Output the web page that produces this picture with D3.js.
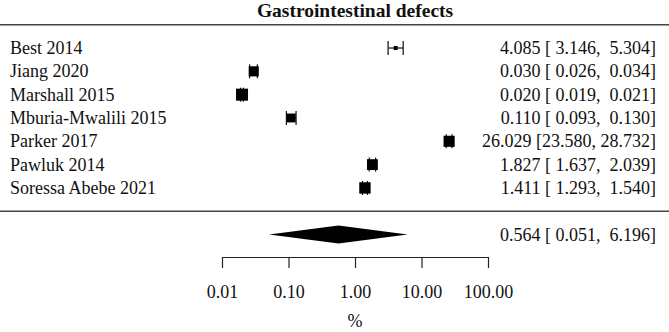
<!DOCTYPE html>
<html>
<head>
<meta charset="utf-8">
<script src="https://cdn.jsdelivr.net/npm/d3@7"></script>
<style>
  body { margin: 0; background: #fff; }
  svg text { font-family: "Liberation Serif", "Times New Roman", serif; fill: #111; white-space: pre; }
</style>
</head>
<body>
<svg id="chart"></svg>
<script>
// data
const studies = ['Best 2014', 'Jiang 2020', 'Marshall 2015', 'Mburia-Mwalili 2015', 'Parker 2017', 'Pawluk 2014', 'Soressa Abebe 2021'];
const estimates = [4.085, 0.030, 0.020, 0.110, 26.029, 1.827, 1.411];
const lowers = [3.146, 0.026, 0.019, 0.093, 23.580, 1.637, 1.293];
const uppers = [5.304, 0.034, 0.021, 0.130, 28.732, 2.039, 1.540];
const summary = { est: 0.564, lb: 0.051, ub: 6.196 };
const tickValues = [0.01, 0.1, 1, 10, 100];

const width = 669;
const height = 332;

const svg = d3.select('svg#chart').attr('width', width).attr('height', height);

// rows like metafor: k..1 for studies, -1 for the summary
const k = studies.length;
const y = d3.scaleLinear().domain([k + 1, -2]).range([24.7, 257.9]);
const x = d3.scaleLog().domain([0.01, 100]).range([222, 488]);

const fmt = d3.format('.3f');
const label = (e, l, u) => fmt(e) + ' [' + fmt(l).padStart(6) + ', ' + fmt(u).padStart(6) + ']';

// point sizes from weights (random effects), rescaled to 0.5..1.5
const vi = lowers.map((l, i) => Math.pow((Math.log(uppers[i]) - Math.log(l)) / (2 * 1.96), 2));
const seSum = (Math.log(summary.ub) - Math.log(summary.lb)) / (2 * 1.96);
let lo = 0, hi = 100;
for (let it = 0; it < 60; it++) {
  const mid = (lo + hi) / 2;
  const s = d3.sum(vi, v => 1 / (v + mid));
  if (1 / s < seSum * seSum) lo = mid; else hi = mid;
}
const tau2 = (lo + hi) / 2;
const wi = vi.map(v => 1 / (v + tau2));
const psize = d3.scaleLinear().domain(d3.extent(wi)).range([0.5, 1.5]);
const boxSide = d3.scaleLinear().domain([0.5, 1.5]).range([4, 12]);

// title
svg.append('text')
  .attr('x', 355).attr('y', 17)
  .attr('text-anchor', 'middle')
  .style('font-size', '19.5px').style('font-weight', 'bold')
  .text('Gastrointestinal defects');

// separator lines
[k + 1, 0].forEach(r => {
  svg.append('line')
    .attr('x1', 0).attr('x2', width)
    .attr('y1', y(r)).attr('y2', y(r))
    .attr('stroke', '#444').attr('stroke-width', 1.5);
});

const rows = studies.map((s, i) => ({ name: s, est: estimates[i], lb: lowers[i], ub: uppers[i], w: wi[i], row: k - i }));

const g = svg.append('g').selectAll('g').data(rows).enter().append('g');

g.append('text')
  .attr('x', 10).attr('y', d => y(d.row) + 6)
  .style('font-size', '18px')
  .text(d => d.name);

g.append('text')
  .attr('x', 656).attr('y', d => y(d.row) + 6)
  .attr('text-anchor', 'end')
  .style('font-size', '18px')
  .text(d => label(d.est, d.lb, d.ub));

g.append('line')
  .attr('x1', d => x(d.lb)).attr('x2', d => x(d.ub))
  .attr('y1', d => y(d.row)).attr('y2', d => y(d.row))
  .attr('stroke', '#111').attr('stroke-width', 1.2);

['lb', 'ub'].forEach(key => {
  g.append('line')
    .attr('x1', d => x(d[key])).attr('x2', d => x(d[key]))
    .attr('y1', d => y(d.row) - 7).attr('y2', d => y(d.row) + 7)
    .attr('stroke', '#111').attr('stroke-width', 1.2);
});

g.append('rect')
  .attr('x', d => x(d.est) - boxSide(psize(d.w)) / 2)
  .attr('y', d => y(d.row) - boxSide(psize(d.w)) / 2)
  .attr('width', d => boxSide(psize(d.w)))
  .attr('height', d => boxSide(psize(d.w)))
  .attr('fill', '#000');

// summary diamond
const ys = y(-1);
svg.append('polygon')
  .attr('points', [
    [x(summary.lb), ys], [x(summary.est), ys - 9],
    [x(summary.ub), ys], [x(summary.est), ys + 9]
  ].map(p => p.join(',')).join(' '))
  .attr('fill', '#000');

svg.append('text')
  .attr('x', 656).attr('y', ys + 6)
  .attr('text-anchor', 'end')
  .style('font-size', '18px')
  .text(label(summary.est, summary.lb, summary.ub));

// x axis
const axisY = 257;
const axis = d3.axisBottom(x)
  .tickValues(tickValues)
  .tickFormat(d3.format('.2f'))
  .tickSize(-11)
  .tickSizeOuter(0)
  .tickPadding(0);

const axisG = svg.append('g')
  .attr('transform', `translate(0, ${axisY})`)
  .call(axis)
  .attr('font-family', '"Liberation Serif", serif');
axisG.select('.domain').attr('stroke', '#222').attr('stroke-width', 1.2);
axisG.selectAll('.tick line')
  .attr('y1', 0).attr('y2', 11)
  .attr('stroke', '#222').attr('stroke-width', 1.2);
axisG.selectAll('.tick text')
  .attr('y', 41).attr('dy', null)
  .style('font-size', '18px')
  .attr('fill', '#111');

svg.append('text')
  .attr('x', 355).attr('y', 327)
  .attr('text-anchor', 'middle')
  .style('font-size', '18px')
  .text('%');
</script>
</body>
</html>
